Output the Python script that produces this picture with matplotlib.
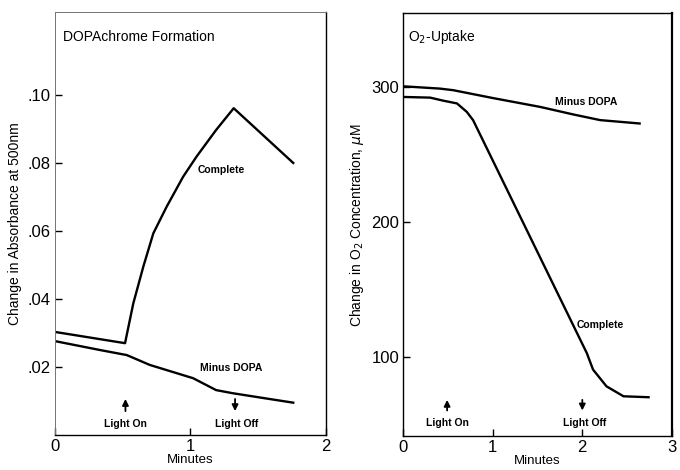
import matplotlib
matplotlib.use("Agg")
import matplotlib.pyplot as plt

# ---- data ----
# Left: DOPAchrome formation
L_complete_t = [0, 0.517, 0.578, 0.652, 0.726, 0.824, 0.947, 1.046, 1.19, 1.32, 1.76]
L_complete_v = [0.0303, 0.0270, 0.0387, 0.0495, 0.0593, 0.0671, 0.0760, 0.0819, 0.0897, 0.0961, 0.080]
L_minus_t = [0, 0.33, 0.53, 0.70, 1.02, 1.19, 1.31, 1.55, 1.76]
L_minus_v = [0.0276, 0.025, 0.0235, 0.0206, 0.0167, 0.0132, 0.0123, 0.0108, 0.0095]
L_yticks = [0.02, 0.04, 0.06, 0.08, 0.10]
L_yticklabels = [".02", ".04", ".06", ".08", ".10"]
L_xticks = [0, 1, 2]

# Right: O2 uptake
R_complete_t = [0, 0.30, 0.45, 0.60, 0.71, 0.78, 2.05, 2.12, 2.27, 2.46, 2.74]
R_complete_v = [292.8, 292.3, 290.0, 288.0, 281.7, 275.6, 102.7, 90.4, 78.0, 70.6, 69.9]
R_minus_t = [0, 0.41, 0.56, 1.0, 1.53, 1.9, 2.2, 2.64]
R_minus_v = [300.7, 299.0, 297.8, 292.0, 285.4, 279.8, 275.6, 273.1]
R_yticks = [100, 200, 300]
R_xticks = [0, 1, 2, 3]

light_on_L, light_off_L = 0.52, 1.33
light_on_R, light_off_R = 0.49, 2.0

plt.rcParams['font.family'] = ['Liberation Sans', 'DejaVu Sans']

fig = plt.figure(figsize=(6.8, 4.7), dpi=100)
axL = fig.add_axes([0.081, 0.0745, 0.398, 0.900])
axR = fig.add_axes([0.593, 0.072, 0.395, 0.900])

lw = 1.7
# Left panel
axL.plot(L_complete_t, L_complete_v, color='black', lw=lw)
axL.plot(L_minus_t, L_minus_v, color='black', lw=lw)
axL.set_xlim(0, 2)
axL.set_ylim(0, 0.1244)
axL.set_xticks(L_xticks)
axL.set_xticklabels([str(v) for v in L_xticks])
axL.set_yticks(L_yticks)
axL.set_yticklabels(L_yticklabels)
axL.set_xlabel("Minutes", fontsize=9.5, labelpad=0)
axL.set_ylabel("Change in Absorbance at 500nm", fontsize=10, labelpad=4)
axL.text(0.06, 0.117, "DOPAchrome Formation", fontsize=10, va='center', ha='left')
axL.text(1.23, 0.078, "Complete", fontsize=7.5, fontweight='bold', ha='center', va='center')
axL.text(1.30, 0.0197, "Minus DOPA", fontsize=7.5, fontweight='bold', ha='center', va='center')
axL.annotate("", xy=(light_on_L, 0.0114), xytext=(light_on_L, 0.0062),
             arrowprops=dict(arrowstyle='-|>', color='black', lw=1.3, mutation_scale=9))
axL.annotate("", xy=(light_off_L, 0.0062), xytext=(light_off_L, 0.0114),
             arrowprops=dict(arrowstyle='-|>', color='black', lw=1.3, mutation_scale=9))
axL.text(light_on_L, 0.0032, "Light On", fontsize=7.5, fontweight='bold', ha='center', va='center')
axL.text(light_off_L + 0.01, 0.0032, "Light Off", fontsize=7.5, fontweight='bold', ha='center', va='center')

# Right panel
axR.plot(R_complete_t, R_complete_v, color='black', lw=lw)
axR.plot(R_minus_t, R_minus_v, color='black', lw=lw)
axR.set_xlim(0, 3)
axR.set_ylim(41, 355)
axR.set_xticks(R_xticks)
axR.set_xticklabels([str(v) for v in R_xticks])
axR.set_yticks(R_yticks)
axR.set_yticklabels([str(v) for v in R_yticks])
axR.set_xlabel("Minutes", fontsize=9.5, labelpad=0)
axR.set_ylabel("Change in O$_2$ Concentration, $\\mu$M", fontsize=10, labelpad=4)
axR.text(0.05, 337, "O$_2$-Uptake", fontsize=10, va='center', ha='left')
axR.text(2.04, 289, "Minus DOPA", fontsize=7.5, fontweight='bold', ha='center', va='center')
axR.text(2.2, 123.7, "Complete", fontsize=7.5, fontweight='bold', ha='center', va='center')
axR.annotate("", xy=(light_on_R, 70), xytext=(light_on_R, 58),
             arrowprops=dict(arrowstyle='-|>', color='black', lw=1.3, mutation_scale=9))
axR.annotate("", xy=(light_off_R, 58), xytext=(light_off_R, 70),
             arrowprops=dict(arrowstyle='-|>', color='black', lw=1.3, mutation_scale=9))
axR.text(light_on_R, 51, "Light On", fontsize=7.5, fontweight='bold', ha='center', va='center')
axR.text(light_off_R + 0.03, 51, "Light Off", fontsize=7.5, fontweight='bold', ha='center', va='center')

for ax in (axL, axR):
    ax.tick_params(direction='in', length=5, width=1, labelsize=12, pad=3)
    for s in ax.spines.values():
        s.set_linewidth(1.0)

axL.spines['left'].set_color('0.45')
axL.spines['top'].set_color('0.45')
axL.spines['left'].set_linewidth(0.7)
axL.spines['top'].set_linewidth(0.7)
axR.spines['right'].set_linewidth(1.6)

fig.savefig("out.png", dpi=100)
